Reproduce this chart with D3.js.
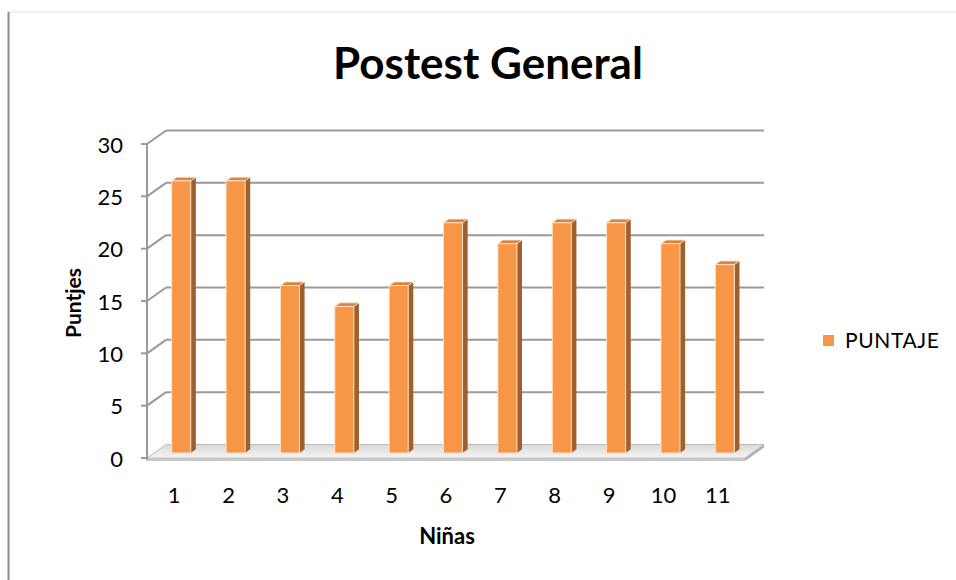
<!DOCTYPE html>
<html>
<head>
<meta charset="utf-8">
<script src="https://cdn.jsdelivr.net/npm/d3@7"></script>
<style>
  body { margin: 0; background: #fff; }
  text { font-family: Lato, "Open Sans", sans-serif; fill: #000; }
</style>
</head>
<body>
<div id="chart"></div>
<script>
// data
const categories = ['1', '2', '3', '4', '5', '6', '7', '8', '9', '10', '11'];
const puntaje = [26, 26, 16, 14, 16, 22, 20, 22, 22, 20, 18];
const yTicks = [0, 5, 10, 15, 20, 25, 30];
const seriesName = 'PUNTAJE';

const W = 956, H = 580;
const svg = d3.select('#chart').append('svg')
    .attr('width', W)
    .attr('height', H);

// frame of the chart area
svg.append('line').attr('x1', 8).attr('x2', W).attr('y1', 12).attr('y2', 12)
    .style('stroke', '#e2e2e2').style('stroke-width', 1);
svg.append('line').attr('x1', 8.5).attr('x2', 8.5).attr('y1', 12).attr('y2', H)
    .style('stroke', '#8c8c8c').style('stroke-width', 2);

// front plane scales
const x = d3.scaleBand().domain(categories).range([147, 745]);
const y = d3.scaleLinear().domain([0, 30]).range([458, 144]);
const depthX = 19, depthY = -13.5;   // full depth offset of the 3D box

const defs = svg.append('defs');
const floorGrad = defs.append('linearGradient').attr('id', 'floorGrad')
    .attr('x1', 0).attr('x2', 0).attr('y1', 0).attr('y2', 1);
floorGrad.append('stop').attr('offset', '0%').attr('stop-color', '#d9d9d9');
floorGrad.append('stop').attr('offset', '100%').attr('stop-color', '#f4f4f4');

const g = svg.append('g');

// floor slab
const x0 = x.range()[0], x1 = x.range()[1], y0 = y(0);
g.append('path')
    .attr('d', `M${x0},${y0} L${x0 + depthX},${y0 + depthY} L${x1 + depthX},${y0 + depthY} L${x1},${y0} Z`)
    .style('fill', 'url(#floorGrad)')
    .style('stroke', '#bdbdbd')
    .style('stroke-width', 1);
g.append('rect')
    .attr('x', x0).attr('y', y0).attr('width', x1 - x0).attr('height', 3)
    .style('fill', '#c8c8c8');
g.append('path')
    .attr('d', `M${x1},${y0} L${x1 + depthX},${y0 + depthY} L${x1 + depthX},${y0 + depthY + 3} L${x1},${y0 + 3} Z`)
    .style('fill', '#b0b0b0');

// back wall gridlines and side wall diagonals
const grid = g.append('g');
yTicks.filter(t => t > 0).forEach(t => {
    grid.append('line')
        .attr('x1', x0 + depthX).attr('x2', x1 + depthX)
        .attr('y1', y(t) + depthY).attr('y2', y(t) + depthY)
        .style('stroke', '#9a9a9a').style('stroke-width', 2);
    grid.append('line')
        .attr('x1', x0).attr('x2', x0 + depthX)
        .attr('y1', y(t)).attr('y2', y(t) + depthY)
        .style('stroke', '#9a9a9a').style('stroke-width', 2);
});

// vertical axis (front-left edge) with ticks
const axis = g.append('g');
axis.append('line')
    .attr('x1', x0).attr('x2', x0).attr('y1', y(30)).attr('y2', y0 + 2)
    .style('stroke', '#9a9a9a').style('stroke-width', 2);
yTicks.forEach(t => {
    axis.append('line')
        .attr('x1', x0 - 6).attr('x2', x0).attr('y1', y(t)).attr('y2', y(t))
        .style('stroke', '#9a9a9a').style('stroke-width', 2);
    axis.append('text')
        .attr('x', 123).attr('y', y(t) + 1)
        .attr('dy', '0.35em')
        .attr('text-anchor', 'end')
        .style('font-size', '22px')
        .text(t);
});

// bars (placed part way into the depth)
const f0 = 0.37, f1 = 0.64;
const barW = x.bandwidth() * 0.35;
const bars = g.append('g');
puntaje.forEach((v, i) => {
    const cx = x(categories[i]) + x.bandwidth() / 2 + f0 * depthX;
    const bx = cx - barW / 2;
    const by = y(v) + f0 * depthY;
    const base = y(0) + f0 * depthY;
    const ddx = (f1 - f0) * depthX, ddy = (f1 - f0) * depthY;
    const bar = bars.append('g');
    // side face
    bar.append('path')
        .attr('d', `M${bx + barW},${by} L${bx + barW + ddx},${by + ddy} L${bx + barW + ddx},${base + ddy} L${bx + barW},${base} Z`)
        .style('fill', '#a0602c');
    // top face
    bar.append('path')
        .attr('d', `M${bx},${by} L${bx + ddx},${by + ddy} L${bx + barW + ddx},${by + ddy} L${bx + barW},${by} Z`)
        .style('fill', '#d9843f')
        .style('stroke', '#fbe3cf').style('stroke-width', 0.8);
    // front face
    bar.append('rect')
        .attr('x', bx).attr('y', by)
        .attr('width', barW).attr('height', base - by)
        .style('fill', '#f79646')
        .style('stroke', '#fde0c8').style('stroke-width', 1);
});

// category labels
g.append('g').selectAll('text')
    .data(categories)
    .join('text')
    .attr('x', d => x(d) + x.bandwidth() / 2)
    .attr('y', 503)
    .attr('text-anchor', 'middle')
    .style('font-size', '22px')
    .text(d => d);

// titles
svg.append('text')
    .attr('x', 488).attr('y', 79)
    .attr('text-anchor', 'middle')
    .style('font-size', '44px')
    .style('font-weight', 'bold')
    .text('Postest General');

svg.append('text')
    .attr('x', 447).attr('y', 544)
    .attr('text-anchor', 'middle')
    .style('font-size', '22px')
    .style('font-weight', 'bold')
    .text('Niñas');

svg.append('text')
    .attr('transform', 'translate(81,303) rotate(-90)')
    .attr('text-anchor', 'middle')
    .style('font-size', '21px')
    .style('font-weight', 'bold')
    .text('Puntjes');

// legend
const legend = svg.append('g').attr('transform', 'translate(823,335)');
legend.append('rect')
    .attr('width', 11).attr('height', 11)
    .style('fill', '#f79646');
legend.append('text')
    .attr('x', 22).attr('y', 6)
    .attr('dy', '0.35em')
    .style('font-size', '21px')
    .style('letter-spacing', '0.6px')
    .text(seriesName);
</script>
</body>
</html>
